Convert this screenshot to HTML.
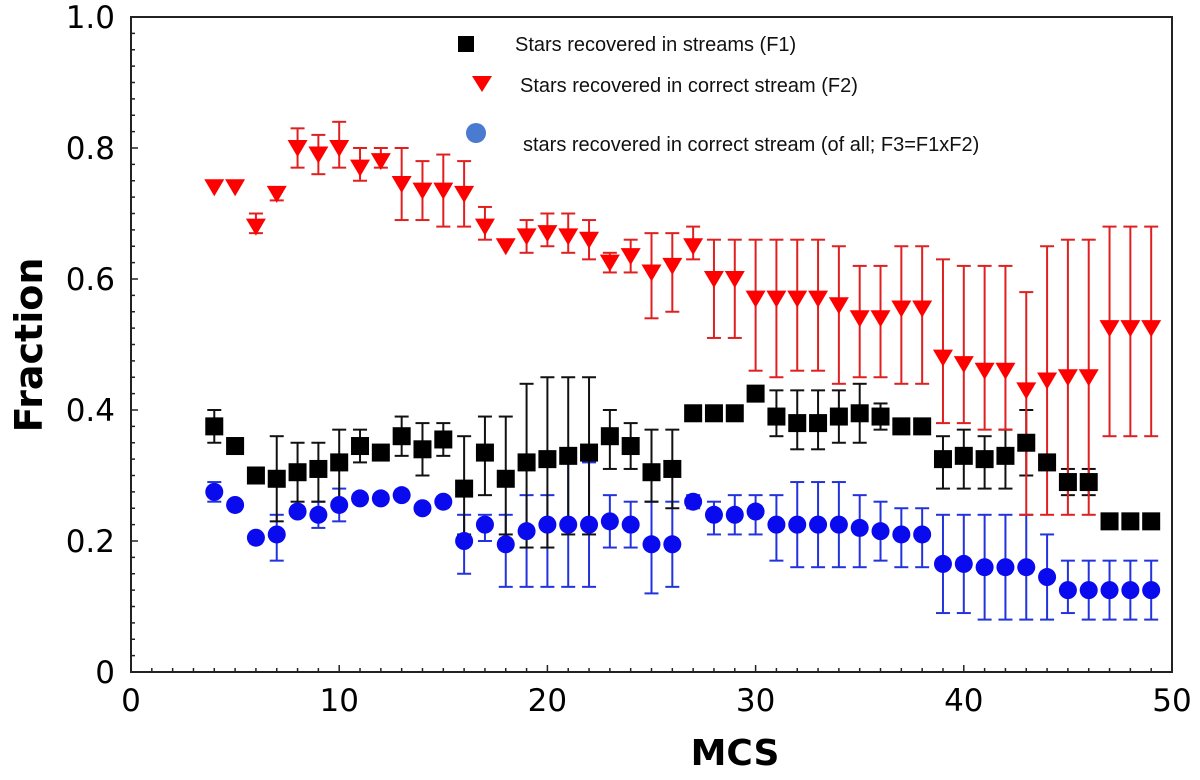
<!DOCTYPE html>
<html><head><meta charset="utf-8"><style>
html,body{margin:0;padding:0;background:#fff;}
svg{display:block;}
text{font-family:"DejaVu Sans","Liberation Sans",sans-serif;}
.leg{font-family:"Liberation Sans",sans-serif;font-size:20px;fill:#111;}
</style></head><body>
<svg id="chart" width="1200" height="780" viewBox="0 0 1200 780" xmlns="http://www.w3.org/2000/svg">
<g id="axes"></g>
<g id="marks"></g>
<g id="legend">
  <rect x="458" y="36" width="16" height="16" fill="#000"/>
  <text class="leg" x="515" y="51">Stars recovered in streams (F1)</text>
  <polygon points="472,76 492,76 482,92" fill="#f00"/>
  <text class="leg" x="520" y="92">Stars recovered in correct stream (F2)</text>
  <circle cx="476" cy="133" r="10" fill="#4a7bd0"/>
  <text class="leg" x="523" y="151">stars recovered in correct stream (of all; F3=F1xF2)</text>
</g>
<text transform="translate(42,345) rotate(-90)" text-anchor="middle" font-size="38" font-weight="bold">Fraction</text>
<text x="735" y="765" text-anchor="middle" font-size="36" font-weight="bold">MCS</text>
</svg>
<script>
const mcs=[4,5,6,7,8,9,10,11,12,13,14,15,16,17,18,19,20,21,22,23,24,25,26,27,28,29,30,31,32,33,34,35,36,37,38,39,40,41,42,43,44,45,46,47,48,49];
const f2=[0.74,0.74,0.68,0.73,0.80,0.79,0.80,0.77,0.78,0.745,0.735,0.735,0.73,0.68,0.65,0.665,0.67,0.665,0.66,0.625,0.635,0.61,0.62,0.65,0.60,0.60,0.57,0.57,0.57,0.57,0.56,0.54,0.54,0.555,0.555,0.48,0.47,0.46,0.46,0.43,0.445,0.45,0.45,0.525,0.525,0.525];
const f2Lo=[null,null,0.67,0.72,0.77,0.76,0.77,0.75,0.77,0.69,0.69,0.68,0.68,0.66,null,0.64,0.65,0.64,0.63,0.61,0.61,0.54,0.55,0.63,0.51,0.51,0.46,0.45,0.46,0.46,0.44,0.45,0.45,0.44,0.44,0.38,0.38,0.37,0.37,0.24,0.24,0.24,0.24,0.36,0.36,0.36];
const f2Hi=[null,null,0.70,0.74,0.83,0.82,0.84,0.80,0.80,0.80,0.78,0.79,0.78,0.71,null,0.69,0.70,0.70,0.69,0.64,0.66,0.67,0.67,0.68,0.66,0.66,0.66,0.66,0.66,0.66,0.65,0.62,0.62,0.65,0.65,0.63,0.62,0.62,0.62,0.58,0.65,0.66,0.66,0.68,0.68,0.68];
const f1=[0.375,0.345,0.30,0.295,0.305,0.31,0.32,0.345,0.335,0.36,0.34,0.355,0.28,0.335,0.295,0.32,0.325,0.33,0.335,0.36,0.345,0.305,0.31,0.395,0.395,0.395,0.425,0.39,0.38,0.38,0.39,0.395,0.39,0.375,0.375,0.325,0.33,0.325,0.33,0.35,0.32,0.29,0.29,0.23,0.23,0.23];
const f1Lo=[0.35,null,null,0.23,0.26,0.26,0.26,0.32,null,0.33,0.30,0.33,0.21,0.27,0.21,0.19,0.19,0.21,0.21,0.31,0.31,0.26,0.25,null,null,null,null,0.36,0.34,0.34,0.35,0.35,0.37,null,null,0.28,0.28,0.28,0.28,0.30,null,0.27,0.27,null,null,null];
const f1Hi=[0.40,null,null,0.36,0.35,0.35,0.37,0.37,null,0.39,0.38,0.38,0.36,0.39,0.39,0.44,0.45,0.45,0.45,0.40,0.38,0.37,0.37,null,null,null,null,0.43,0.43,0.43,0.43,0.44,0.41,null,null,0.36,0.37,0.36,0.37,0.40,null,0.31,0.31,null,null,null];
const f3=[0.275,0.255,0.205,0.21,0.245,0.24,0.255,0.265,0.265,0.27,0.25,0.26,0.20,0.225,0.195,0.215,0.225,0.225,0.225,0.23,0.225,0.195,0.195,0.26,0.24,0.24,0.245,0.225,0.225,0.225,0.225,0.22,0.215,0.21,0.21,0.165,0.165,0.16,0.16,0.16,0.145,0.125,0.125,0.125,0.125,0.125];
const f3Lo=[0.26,null,null,0.17,null,0.22,0.23,null,null,null,null,null,0.15,0.20,0.13,0.13,0.13,0.13,0.13,0.19,0.19,0.12,0.13,0.25,0.21,0.21,0.21,0.17,0.16,0.16,0.16,0.16,0.17,0.16,0.16,0.09,0.09,0.08,0.08,0.08,0.08,0.09,0.08,0.08,0.08,0.08];
const f3Hi=[0.29,null,null,0.24,null,0.26,0.28,null,null,null,null,null,0.24,0.24,0.24,0.27,0.27,0.32,0.32,0.27,0.26,0.26,0.26,0.27,0.26,0.27,0.27,0.27,0.29,0.29,0.29,0.27,0.26,0.25,0.25,0.24,0.24,0.24,0.24,0.24,0.21,0.17,0.17,0.17,0.17,0.17];
const xTicks=[0,10,20,30,40,50];
const yTicks=["0","0.2","0.4","0.6","0.8","1.0"];

const NS="http://www.w3.org/2000/svg";
const X0=131,X1=1172,Y0=672,Y1=17;
const sx=v=>X0+(v/50)*(X1-X0);
const sy=v=>Y0-v*(Y0-Y1);
function mk(parent,tag,attrs){const e=document.createElementNS(NS,tag);for(const k in attrs)e.setAttribute(k,attrs[k]);parent.appendChild(e);return e;}
const axes=document.getElementById('axes'),marks=document.getElementById('marks');

const frame=mk(axes,'rect',{x:X0,y:Y1,width:X1-X0,height:Y0-Y1,fill:'none',stroke:'#222','stroke-width':2});


for(let i=0;i<=50;i++){
  const len=i%10===0?7:4;
  const t=mk(axes,'line',{x1:sx(i),x2:sx(i),y1:Y0,y2:Y0-len,stroke:'#222','stroke-width':1.5});
  
  
}
xTicks.forEach(v=>{
  const t=mk(axes,'text',{x:sx(v),y:Y0+39,'text-anchor':'middle','font-size':31});
  t.textContent=String(v);
  
  
});
for(let i=0;i<=40;i++){
  const len=i%8===0?7:4;
  const t=mk(axes,'line',{x1:X0,x2:X0+len,y1:sy(i*0.025),y2:sy(i*0.025),stroke:'#222','stroke-width':1.5});
  
  
}
yTicks.forEach(s=>{
  const t=mk(axes,'text',{x:X0-16,y:sy(parseFloat(s))+11,'text-anchor':'end','font-size':31});
  t.textContent=s;
  
  
});

function errs(vals,lo,hi,color,name){
  mcs.forEach((m,i)=>{
    if(lo[i]==null)return;
    const x=sx(m);
    const g=mk(marks,'g',{stroke:color,'stroke-width':2});
    
    
    mk(g,'line',{x1:x,x2:x,y1:sy(lo[i]),y2:sy(hi[i])});
    mk(g,'line',{x1:x-7,x2:x+7,y1:sy(lo[i]),y2:sy(lo[i])});
    mk(g,'line',{x1:x-7,x2:x+7,y1:sy(hi[i]),y2:sy(hi[i])});
  });
}
errs(f3,f3Lo,f3Hi,'#2233dd','f3-error-bar');
errs(f1,f1Lo,f1Hi,'#111','f1-error-bar');
errs(f2,f2Lo,f2Hi,'#e02020','f2-error-bar');
mcs.forEach((m,i)=>{
  const c=mk(marks,'circle',{cx:sx(m),cy:sy(f3[i]),r:9,fill:'#0a0aee'});
  
  
});
mcs.forEach((m,i)=>{
  const r=mk(marks,'rect',{x:sx(m)-9,y:sy(f1[i])-9,width:18,height:18,fill:'#000'});
  
  
});
mcs.forEach((m,i)=>{
  const x=sx(m),y=sy(f2[i]);
  const p=mk(marks,'polygon',{points:`${x-10},${y-8} ${x+10},${y-8} ${x},${y+9}`,fill:'#f00'});
  
  
});
</script>
</body></html>
